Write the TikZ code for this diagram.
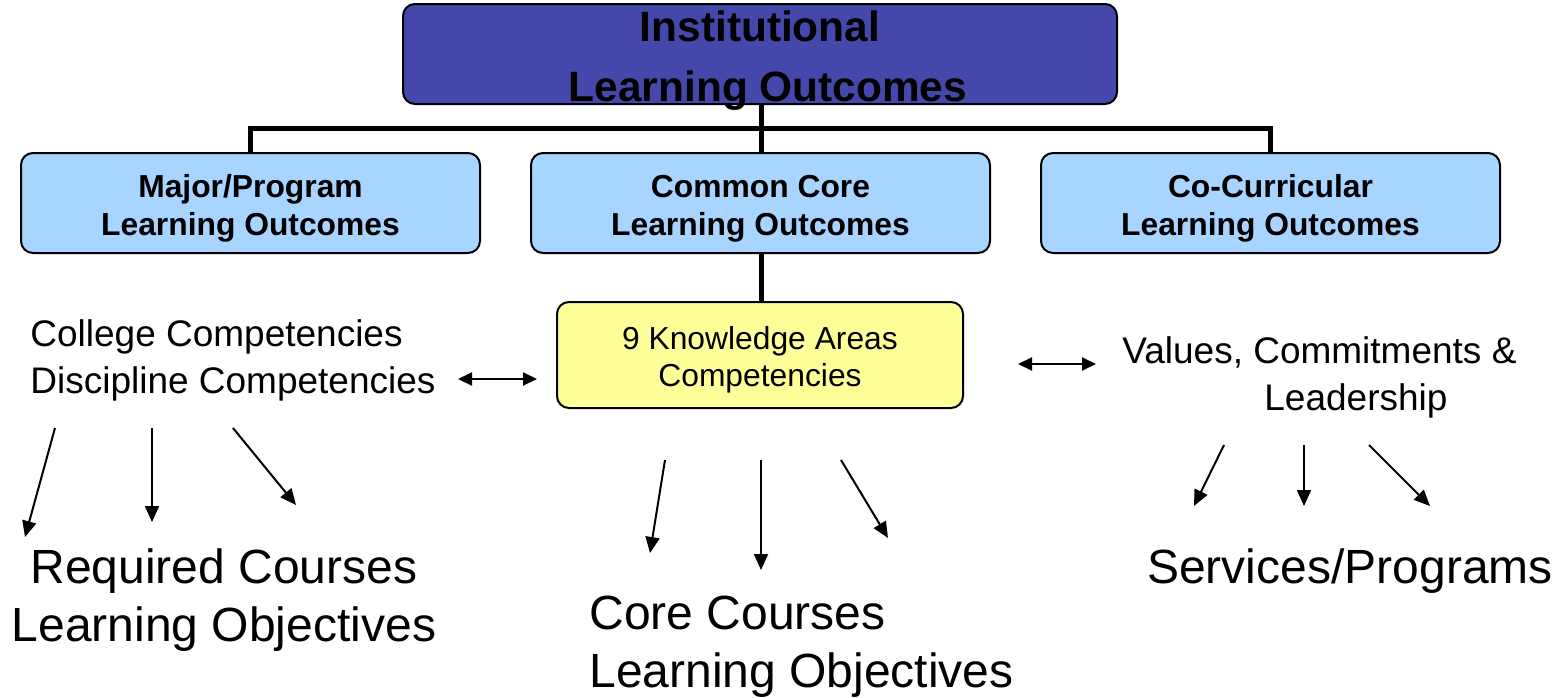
\documentclass[tikz,border=0pt]{standalone}
\usepackage{fontspec}
\setmainfont{Liberation Sans}
\usetikzlibrary{arrows.meta}
\definecolor{topblue}{RGB}{67,72,170}
\definecolor{midblue}{RGB}{168,213,255}
\definecolor{kayellow}{RGB}{255,255,153}
\tikzset{
  topbox/.style={draw=black, line width=1pt, rounded corners=6pt, fill=topblue, inner sep=0pt,
    align=center, text height=48.6pt, text depth=1.4pt, font=\bfseries\fontsize{21.2}{30}\selectfont},
  midbox/.style={draw=black, line width=1pt, rounded corners=6pt, fill=midblue, inner sep=0pt,
    minimum width=229.5pt, minimum height=50pt, align=center, text height=40pt, text depth=7.7pt,
    font=\bfseries\fontsize{15.9}{19}\selectfont},
  kabox/.style={draw=black, line width=1pt, rounded corners=6pt, fill=kayellow, inner sep=0pt,
    minimum width=203pt, minimum height=53pt, align=center, text height=40pt, text depth=8.7pt,
    font=\fontsize{15.9}{18.5}\selectfont},
  conn/.style={line width=2.5pt, line join=miter},
  arr/.style={line width=1pt, -{Triangle[length=8pt,width=7pt]}},
  dbl/.style={line width=1pt, {Triangle[length=7pt,width=6.5pt]}-{Triangle[length=7pt,width=6.5pt]}},
  midtext/.style={inner sep=0pt, font=\fontsize{18.5}{23.5}\selectfont},
  bigtext/.style={inner sep=0pt, font=\fontsize{24}{29}\selectfont},
}
\begin{document}
\begin{tikzpicture}[x=0.5pt,y=-0.5pt]
\useasboundingbox (0,0) rectangle (1560,697);
% boxes
\node[topbox, minimum width=357pt, minimum height=50pt] (ilo) at (760,54) {Institutional\\\hspace*{8pt}Learning Outcomes};
\node[midbox] (major) at (250.5,203) {Major/Program\\Learning Outcomes};
\node[midbox] (common) at (760.5,203) {Common Core\\Learning Outcomes};
\node[midbox] (cocurr) at (1270.5,203) {Co-Curricular\\Learning Outcomes};
\node[kabox] (ka) at (760,355) {9 Knowledge Areas\\Competencies};
% tree connectors
\coordinate (bus) at (761,128);
\draw[conn] (ilo.south -| bus) -- (common.north -| bus);
\draw[conn] (major.north) -- (major.north |- bus) -- (cocurr.north |- bus) -- (cocurr.north);
\draw[conn] (common.south -| bus) -- (ka.north -| bus);
% side texts
\node[midtext, anchor=west, align=left] (comp) at (30,360) {College Competencies\\Discipline Competencies};
\node[midtext, anchor=west, align=left] (vals) at (1122,377) {Values, Commitments \&\\\hspace*{71pt}Leadership};
% double arrows
\coordinate (dl1) at (458,379); \coordinate (dl2) at (537,379);
\coordinate (dr1) at (1018,364); \coordinate (dr2) at (1096,364);
\draw[dbl] (dl1) -- (dl2);
\draw[dbl] (dr1) -- (dr2);
% bottom texts
\node[bigtext, align=center] (req) at (224,600) {Required Courses\\Learning Objectives};
\node[bigtext, anchor=west, align=left] (core) at (589,647) {Core Courses\\Learning Objectives};
\node[bigtext] (serv) at (1350,571) {Services/Programs};
% left arrows
\coordinate (la1) at (55,428); \coordinate (lb1) at (25,537);
\coordinate (la2) at (152,428); \coordinate (lb2) at (152,522);
\coordinate (la3) at (233,428); \coordinate (lb3) at (296,505);
\draw[arr] (la1) -- (lb1);
\draw[arr] (la2) -- (lb2);
\draw[arr] (la3) -- (lb3);
% middle arrows
\coordinate (ma1) at (665,460); \coordinate (mb1) at (650,553);
\coordinate (ma2) at (761,460); \coordinate (mb2) at (761,570);
\coordinate (ma3) at (841,460); \coordinate (mb3) at (888,538);
\draw[arr] (ma1) -- (mb1);
\draw[arr] (ma2) -- (mb2);
\draw[arr] (ma3) -- (mb3);
% right arrows
\coordinate (ra1) at (1224,445); \coordinate (rb1) at (1194,506);
\coordinate (ra2) at (1304,445); \coordinate (rb2) at (1304,506);
\coordinate (ra3) at (1369,445); \coordinate (rb3) at (1430,506);
\draw[arr] (ra1) -- (rb1);
\draw[arr] (ra2) -- (rb2);
\draw[arr] (ra3) -- (rb3);
\end{tikzpicture}
\end{document}
